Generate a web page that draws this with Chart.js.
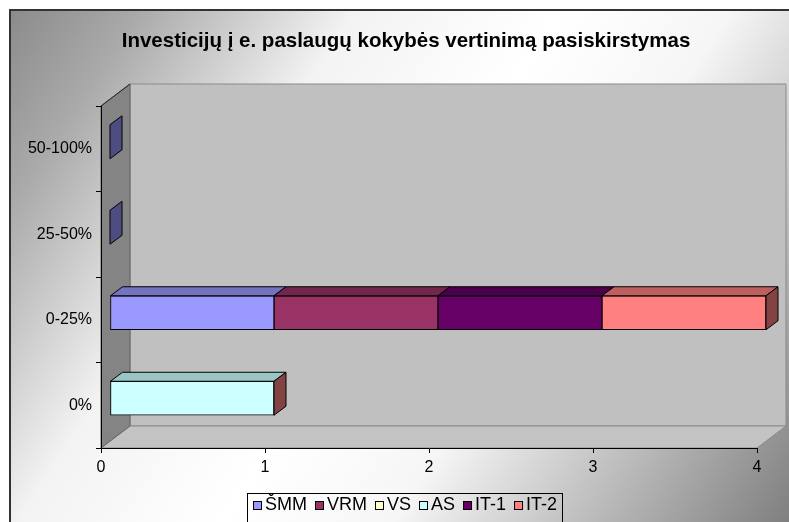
<!DOCTYPE html>
<html><head><meta charset="utf-8">
<script src="https://cdn.jsdelivr.net/npm/chart.js@4.4.0/dist/chart.umd.min.js"></script>
<style>html,body{margin:0;padding:0;background:#fff;}#wrap{width:789px;height:522px;position:relative;}</style>
</head><body><div id="wrap"><canvas id="c" width="789" height="522"></canvas></div>
<script>
const categories = ['50-100%', '25-50%', '0-25%', '0%'];
const seriesNames = ['ŠMM', 'VRM', 'VS', 'AS', 'IT-1', 'IT-2'];
const smm = [0, 0, 1, null];
const vrm = [null, null, 1, null];
const vs  = [null, null, null, null];
const as  = [null, null, null, 1];
const it1 = [null, null, 1, null];
const it2 = [null, null, 1, null];
const xTicks = [0, 1, 2, 3, 4];
const titleText = 'Investicijų į e. paslaugų kokybės vertinimą pasiskirstymas';

const frontC = ['#9999FF', '#993366', '#FFFFCC', '#CCFFFF', '#660066', '#FF8080'];
const topC   = ['#7373BF', '#73264D', '#BFBF99', '#99C6C3', '#4C004C', '#BF6060'];
const sideC  = ['#4D4D82', '#4D1A33', '#808066', '#834343', '#330033', '#834343'];
const FONT = '"Liberation Sans", Arial, sans-serif';

const seriesData = [smm, vrm, vs, as, it1, it2];

function poly(ctx, pts, fill, stroke, lw) {
  ctx.beginPath();
  ctx.moveTo(pts[0][0], pts[0][1]);
  for (let i = 1; i < pts.length; i++) ctx.lineTo(pts[i][0], pts[i][1]);
  ctx.closePath();
  if (fill) { ctx.fillStyle = fill; ctx.fill(); }
  if (stroke) { ctx.strokeStyle = stroke; ctx.lineWidth = lw || 1; ctx.stroke(); }
}

const BAR_OFF = { x: 9, y: -7 };
const BAR_D = { x: 12, y: -9 };
const WALL = { x: 29, y: -22 };

const threeD = {
  id: 'threeD',
  beforeDraw(chart) {
    const { ctx, chartArea: a, width, height } = chart;
    ctx.save();
    ctx.fillStyle = '#fff';
    ctx.fillRect(0, 0, width, height);
    const g = ctx.createLinearGradient(0, 0, width, height);
    g.addColorStop(0, '#878787');
    g.addColorStop(0.13, '#aaaaaa');
    g.addColorStop(0.32, '#f3f3f3');
    g.addColorStop(0.5, '#ffffff');
    g.addColorStop(0.65, '#f6f6f6');
    g.addColorStop(1, '#7f7f7f');
    ctx.fillStyle = g;
    ctx.fillRect(10, 10, width - 10, height - 10);
    ctx.strokeStyle = '#333';
    ctx.lineWidth = 2;
    ctx.beginPath();
    ctx.moveTo(10, height + 2); ctx.lineTo(10, 10); ctx.lineTo(width + 2, 10);
    ctx.stroke();
    // title
    ctx.fillStyle = '#000';
    ctx.font = 'bold 20.5px ' + FONT;
    ctx.textAlign = 'center';
    ctx.textBaseline = 'alphabetic';
    ctx.fillText(titleText, 406, 47);
    const L = a.left, R = a.right, T = a.top, B = a.bottom;
    const wx = WALL.x, wy = WALL.y;
    poly(ctx, [[L + wx, T + wy], [R + wx, T + wy], [R + wx, B + wy], [L + wx, B + wy]], '#C0C0C0', '#8a8a8a', 1);
    poly(ctx, [[L, B], [L + wx, B + wy], [R + wx, B + wy], [R, B]], '#C3C3C3', '#8a8a8a', 1);
    poly(ctx, [[L, T], [L + wx, T + wy], [L + wx, B + wy], [L, B]], '#848484', '#666', 1);
    ctx.beginPath();
    ctx.moveTo(L, T); ctx.lineTo(L + wx, T + wy);
    ctx.strokeStyle = '#222'; ctx.lineWidth = 1; ctx.stroke();
    ctx.restore();
  },
  beforeDatasetsDraw(chart) {
    chart.ctx.save();
    chart.ctx.translate(BAR_OFF.x, BAR_OFF.y);
  },
  afterDatasetsDraw(chart) {
    const ctx = chart.ctx;
    const n = chart.data.labels.length;
    const dss = chart.data.datasets;
    for (let i = 0; i < n; i++) {
      let last = -1;
      dss.forEach((ds, d) => { const v = ds.data[i]; if (v !== null && v !== undefined) last = d; });
      dss.forEach((ds, d) => {
        const v = ds.data[i];
        if (v === null || v === undefined) return;
        const el = chart.getDatasetMeta(d).data[i];
        const p = el.getProps(['x', 'y', 'base', 'height'], true);
        const x0 = Math.min(p.x, p.base), x1 = Math.max(p.x, p.base);
        const y0 = p.y - p.height / 2, y1 = p.y + p.height / 2;
        if (x1 - x0 > 0.5) {
          poly(ctx, [[x0, y0], [x0 + BAR_D.x, y0 + BAR_D.y], [x1 + BAR_D.x, y0 + BAR_D.y], [x1, y0]], topC[d], '#000', 1);
        }
        if (d === last) {
          poly(ctx, [[x1, y0], [x1 + BAR_D.x, y0 + BAR_D.y], [x1 + BAR_D.x, y1 + BAR_D.y], [x1, y1]], sideC[d], '#000', 1);
        }
      });
    }
    ctx.restore();
  }
};

const legendBox = {
  id: 'legendBox',
  afterDraw(chart) {
    const ctx = chart.ctx;
    ctx.save();
    ctx.font = '18px ' + FONT;
    const items = chart.data.datasets.map((ds, d) => ({ t: ds.label, c: frontC[d], w: ctx.measureText(ds.label).width }));
    const box = 9, gap = 3, sep = 8;
    const total = items.reduce((s, it) => s + box + gap + it.w, 0) + sep * (items.length - 1);
    const cx = 405;
    let x = Math.round(cx - total / 2);
    ctx.strokeStyle = '#000';
    ctx.lineWidth = 1;
    ctx.strokeRect(x - 5.5, 493.5, Math.round(total + 11), 40);
    items.forEach(it => {
      ctx.fillStyle = it.c;
      ctx.fillRect(x, 501, 9, 9);
      ctx.strokeStyle = '#000';
      ctx.strokeRect(x + 0.5, 501.5, 8, 8);
      ctx.fillStyle = '#000';
      ctx.textBaseline = 'alphabetic';
      ctx.textAlign = 'left';
      ctx.fillText(it.t, x + box + gap, 510);
      x += box + gap + it.w + sep;
    });
    ctx.restore();
  }
};

const datasets = seriesNames.map((name, d) => ({
  label: name,
  data: seriesData[d],
  backgroundColor: frontC[d],
  borderColor: '#000',
  borderWidth: 1,
  borderSkipped: false,
  barThickness: 34,
  clip: false
}));

new Chart(document.getElementById('c'), {
  type: 'bar',
  data: { labels: categories, datasets },
  options: {
    indexAxis: 'y',
    responsive: false,
    animation: false,
    events: [],
    layout: { padding: { left: 0, right: 32, top: 106, bottom: 0 } },
    plugins: {
      legend: { display: false },
      tooltip: { enabled: false },
      title: { display: false }
    },
    scales: {
      x: {
        stacked: true,
        min: 0, max: 4,
        afterBuildTicks: s => { s.ticks = xTicks.map(v => ({ value: v })); },
        afterFit: s => { s.height = 74; },
        grid: { drawOnChartArea: false, tickLength: 5, color: '#000' },
        border: { display: true, color: '#000', width: 1 },
        ticks: { color: '#000', font: { family: FONT, size: 16 }, padding: 5, maxRotation: 0 }
      },
      y: {
        stacked: true,
        afterFit: s => { s.width = 101; },
        grid: { drawOnChartArea: false, tickLength: 5, color: '#000', offset: true },
        border: { display: true, color: '#000', width: 1 },
        ticks: { color: '#000', font: { family: FONT, size: 16 }, padding: 4 }
      }
    }
  },
  plugins: [threeD, legendBox]
});
</script>
</body></html>
